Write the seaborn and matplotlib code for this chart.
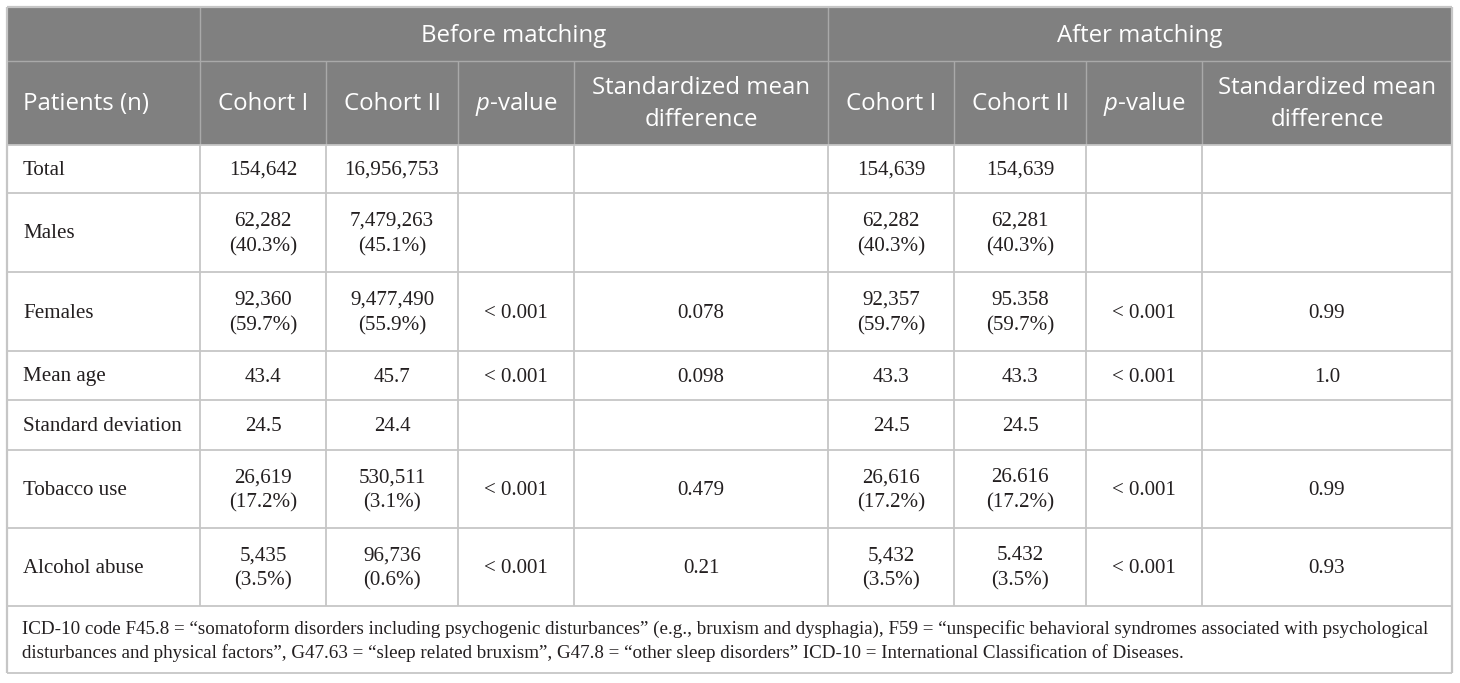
import pandas as pd
import matplotlib
matplotlib.use("Agg")
import matplotlib.pyplot as plt
import seaborn as sns
from matplotlib.patches import Rectangle

# Table values

rows = ["Total", "Males", "Females", "Mean age", "Standard deviation",
        "Tobacco use", "Alcohol abuse"]

before_cohort1 = ["154,642", "62,282", "92,360", "43.4", "24.5", "26,619", "5,435"]
before_cohort1_pct = ["", "40.3%", "59.7%", "", "", "17.2%", "3.5%"]
before_cohort2 = ["16,956,753", "7,479,263", "9,477,490", "45.7", "24.4", "530,511", "96,736"]
before_cohort2_pct = ["", "45.1%", "55.9%", "", "", "3.1%", "0.6%"]
before_p = ["", "", "< 0.001", "< 0.001", "", "< 0.001", "< 0.001"]
before_smd = ["", "", "0.078", "0.098", "", "0.479", "0.21"]

after_cohort1 = ["154,639", "62,282", "92,357", "43.3", "24.5", "26,616", "5,432"]
after_cohort1_pct = ["", "40.3%", "59.7%", "", "", "17.2%", "3.5%"]
after_cohort2 = ["154,639", "62,281", "95.358", "43.3", "24.5", "26.616", "5.432"]
after_cohort2_pct = ["", "40.3%", "59.7%", "", "", "17.2%", "3.5%"]
after_p = ["", "", "< 0.001", "< 0.001", "", "< 0.001", "< 0.001"]
after_smd = ["", "", "0.99", "1.0", "", "0.99", "0.93"]

groups = ["Before matching", "After matching"]
sub_headers = ["Cohort I", "Cohort II", r"$\mathit{p}$-value",
               "Standardized mean\ndifference"]
first_header = "Patients (n)"

footnote = [
    "ICD-10 code F45.8 = \u201csomatoform disorders including psychogenic disturbances\u201d "
    "(e.g., bruxism and dysphagia), F59 = \u201cunspecific behavioral syndromes associated with psychological",
    "disturbances and physical factors\u201d, G47.63 = \u201csleep related bruxism\u201d, "
    "G47.8 = \u201cother sleep disorders\u201d ICD-10 = International Classification of Diseases.",
]


def cell(value, pct):
    if pct:
        return value + "\n(" + pct + ")"
    return value


df = pd.DataFrame({
    "label": rows,
    "b1": [cell(v, p) for v, p in zip(before_cohort1, before_cohort1_pct)],
    "b2": [cell(v, p) for v, p in zip(before_cohort2, before_cohort2_pct)],
    "bp": before_p,
    "bs": before_smd,
    "a1": [cell(v, p) for v, p in zip(after_cohort1, after_cohort1_pct)],
    "a2": [cell(v, p) for v, p in zip(after_cohort2, after_cohort2_pct)],
    "ap": after_p,
    "as": after_smd,
})

# Layout (pixels)

col_edges = [7, 200, 326, 458, 574, 828, 954, 1086, 1202, 1452]
row_edges = [7, 61, 145, 193, 272, 351, 400, 450, 528, 606, 673]

header_fill = "#808080"
header_line = "#a9a9a9"
grid_line = "#c6c6c6"
body_color = "#231f20"

sns.set_theme(style="white")
plt.rcParams["font.family"] = ["Liberation Serif", "DejaVu Serif"]
plt.rcParams["mathtext.fontset"] = "custom"
plt.rcParams["mathtext.rm"] = "Open Sans"
plt.rcParams["mathtext.it"] = "Open Sans:italic"

fig = plt.figure(figsize=(14.6, 6.83), dpi=100)
ax = fig.add_axes([0, 0, 1, 1])
ax.set_xlim(0, 1460)
ax.set_ylim(683, 0)
ax.axis("off")

left, right = col_edges[0], col_edges[-1]
top, head_bottom = row_edges[0], row_edges[2]

# Header background
ax.add_patch(Rectangle((left, top), right - left, head_bottom - top,
                       facecolor=header_fill, edgecolor="none", zorder=1))

# Header inner lines
ax.hlines(row_edges[1], left, right, color=header_line, lw=1, zorder=2)
ax.vlines([col_edges[1], col_edges[5]], row_edges[0], row_edges[1],
          color=header_line, lw=1, zorder=2)
ax.vlines(col_edges[1:-1], row_edges[1], row_edges[2],
          color=header_line, lw=1, zorder=2)

# Header text
head_font = dict(family="Open Sans", fontsize=17.3, color="white",
                 ha="center", va="center", linespacing=1.42, zorder=3)
head_mid_1 = (row_edges[0] + row_edges[1]) / 2 + 2
head_mid_2 = (row_edges[1] + row_edges[2]) / 2 + 1
ax.text((col_edges[1] + col_edges[5]) / 2, head_mid_1, groups[0], **head_font)
ax.text((col_edges[5] + col_edges[9]) / 2, head_mid_1, groups[1], **head_font)
ax.text(23, head_mid_2, first_header, **{**head_font, "ha": "left"})
for g in range(2):
    for j, name in enumerate(sub_headers):
        c = 1 + g * 4 + j
        ax.text((col_edges[c] + col_edges[c + 1]) / 2, head_mid_2, name, **head_font)

# Body grid
ax.hlines(row_edges[2:], left, right, color=grid_line, lw=1.3, zorder=2)
ax.vlines(col_edges[1:-1], row_edges[2], row_edges[-2], color=grid_line, lw=1.3, zorder=2)
ax.vlines([left, right], top, row_edges[-1], color=grid_line, lw=1.6, zorder=4)
ax.hlines(top, left, right, color=grid_line, lw=1.6, zorder=4)

# Body text
body_font = dict(fontsize=15.1, color=body_color, va="center",
                 linespacing=1.45, zorder=3)
columns = ["b1", "b2", "bp", "bs", "a1", "a2", "ap", "as"]
for i, r in df.iterrows():
    y = (row_edges[i + 2] + row_edges[i + 3]) / 2 + 1.5
    ax.text(23, y, r["label"], ha="left", **body_font)
    for j, key in enumerate(columns):
        x = (col_edges[j + 1] + col_edges[j + 2]) / 2
        ax.text(x, y, r[key], ha="center", **body_font)

# Footnote
foot_y = [629, 653]
for line, y in zip(footnote, foot_y):
    ax.text(22, y, line, ha="left", va="center", fontsize=13.68,
            color=body_color, zorder=3)

fig.savefig("out.png", dpi=100)
